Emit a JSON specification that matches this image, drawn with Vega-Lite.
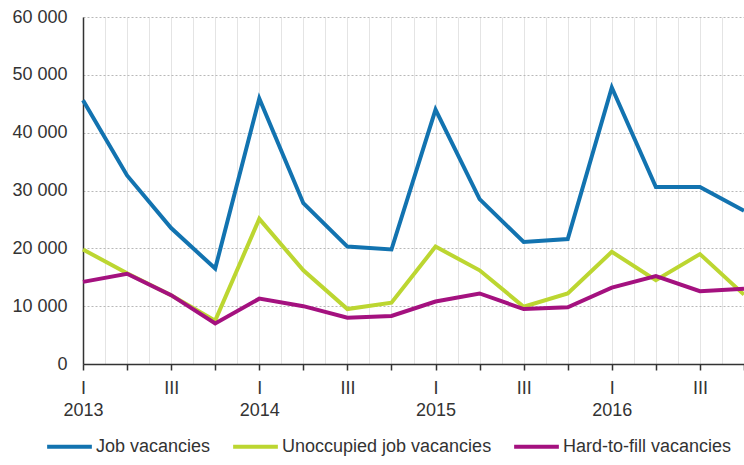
{
  "$schema": "https://vega.github.io/schema/vega-lite/v6.json",
  "autosize": {"type": "none"},
  "width": 661,
  "height": 347,
  "padding": {"left": 83, "top": 17, "right": 0, "bottom": 101},
  "background": "white",
  "config": {
    "font": "Liberation Sans",
    "view": {"stroke": null}
  },
  "data": {
    "values": [
      {"q": 0, "series": "Job vacancies", "value": 45600},
      {"q": 1, "series": "Job vacancies", "value": 32600},
      {"q": 2, "series": "Job vacancies", "value": 23500},
      {"q": 3, "series": "Job vacancies", "value": 16500},
      {"q": 4, "series": "Job vacancies", "value": 45900},
      {"q": 5, "series": "Job vacancies", "value": 27800},
      {"q": 6, "series": "Job vacancies", "value": 20300},
      {"q": 7, "series": "Job vacancies", "value": 19800},
      {"q": 8, "series": "Job vacancies", "value": 44000},
      {"q": 9, "series": "Job vacancies", "value": 28500},
      {"q": 10, "series": "Job vacancies", "value": 21100},
      {"q": 11, "series": "Job vacancies", "value": 21600},
      {"q": 12, "series": "Job vacancies", "value": 47800},
      {"q": 13, "series": "Job vacancies", "value": 30600},
      {"q": 14, "series": "Job vacancies", "value": 30600},
      {"q": 15, "series": "Job vacancies", "value": 26500},
      {"q": 0, "series": "Unoccupied job vacancies", "value": 19800},
      {"q": 1, "series": "Unoccupied job vacancies", "value": 15700},
      {"q": 2, "series": "Unoccupied job vacancies", "value": 11900},
      {"q": 3, "series": "Unoccupied job vacancies", "value": 7500},
      {"q": 4, "series": "Unoccupied job vacancies", "value": 25100},
      {"q": 5, "series": "Unoccupied job vacancies", "value": 16200},
      {"q": 6, "series": "Unoccupied job vacancies", "value": 9500},
      {"q": 7, "series": "Unoccupied job vacancies", "value": 10600},
      {"q": 8, "series": "Unoccupied job vacancies", "value": 20300},
      {"q": 9, "series": "Unoccupied job vacancies", "value": 16200},
      {"q": 10, "series": "Unoccupied job vacancies", "value": 9900},
      {"q": 11, "series": "Unoccupied job vacancies", "value": 12200},
      {"q": 12, "series": "Unoccupied job vacancies", "value": 19400},
      {"q": 13, "series": "Unoccupied job vacancies", "value": 14500},
      {"q": 14, "series": "Unoccupied job vacancies", "value": 19000},
      {"q": 15, "series": "Unoccupied job vacancies", "value": 12000},
      {"q": 0, "series": "Hard-to-fill vacancies", "value": 14200},
      {"q": 1, "series": "Hard-to-fill vacancies", "value": 15600},
      {"q": 2, "series": "Hard-to-fill vacancies", "value": 11900},
      {"q": 3, "series": "Hard-to-fill vacancies", "value": 7000},
      {"q": 4, "series": "Hard-to-fill vacancies", "value": 11300},
      {"q": 5, "series": "Hard-to-fill vacancies", "value": 10000},
      {"q": 6, "series": "Hard-to-fill vacancies", "value": 8000},
      {"q": 7, "series": "Hard-to-fill vacancies", "value": 8300},
      {"q": 8, "series": "Hard-to-fill vacancies", "value": 10800},
      {"q": 9, "series": "Hard-to-fill vacancies", "value": 12200},
      {"q": 10, "series": "Hard-to-fill vacancies", "value": 9500},
      {"q": 11, "series": "Hard-to-fill vacancies", "value": 9800},
      {"q": 12, "series": "Hard-to-fill vacancies", "value": 13200},
      {"q": 13, "series": "Hard-to-fill vacancies", "value": 15200},
      {"q": 14, "series": "Hard-to-fill vacancies", "value": 12600},
      {"q": 15, "series": "Hard-to-fill vacancies", "value": 13000}
    ]
  },
  "mark": {"type": "line", "strokeWidth": 4, "strokeJoin": "miter", "clip": false},
  "encoding": {
    "x": {
      "field": "q",
      "type": "quantitative",
      "scale": {"domain": [0, 15], "nice": false, "zero": false},
      "axis": {
        "title": null,
        "values": [0, 0.5, 1, 1.5, 2, 2.5, 3, 3.5, 4, 4.5, 5, 5.5, 6, 6.5, 7, 7.5, 8, 8.5, 9, 9.5, 10, 10.5, 11, 11.5, 12, 12.5, 13, 13.5, 14, 14.5, 15],
        "grid": true,
        "gridColor": "#e4e4e4",
        "gridWidth": 1,
        "domainColor": "#333333",
        "domainWidth": 1.5,
        "tickColor": "#333333",
        "tickSize": 6,
        "tickWidth": 1.5,
        "tickOpacity": {"condition": {"test": "datum.value % 1 === 0", "value": 1}, "value": 0},
        "labelExpr": "datum.value % 4 === 0 ? ['I', toString(2013 + datum.value / 4)] : (datum.value % 4 === 2 ? 'III' : '')",
        "labelOverlap": false,
        "labelFlush": false,
        "labelBound": false,
        "labelFontSize": 18,
        "labelColor": "#333333",
        "labelLineHeight": 22,
        "labelPadding": 9
      }
    },
    "y": {
      "field": "value",
      "type": "quantitative",
      "scale": {"domain": [0, 60000], "nice": false},
      "axis": {
        "title": null,
        "values": [0, 10000, 20000, 30000, 40000, 50000, 60000],
        "labelExpr": "replace(format(datum.value, ','), ',', ' ')",
        "grid": true,
        "gridColor": "#b8b8b8",
        "gridDash": [2, 2],
        "gridWidth": 1,
        "domainColor": "#333333",
        "domainWidth": 1.5,
        "ticks": false,
        "labelFontSize": 18,
        "labelColor": "#333333",
        "labelPadding": 16
      }
    },
    "color": {
      "field": "series",
      "type": "nominal",
      "scale": {
        "domain": ["Job vacancies", "Unoccupied job vacancies", "Hard-to-fill vacancies"],
        "range": ["#1273b0", "#bcd631", "#a4117f"]
      },
      "legend": {
        "title": null,
        "orient": "none",
        "direction": "horizontal",
        "legendX": -38,
        "legendY": 405,
        "symbolType": "stroke",
        "symbolSize": 2000,
        "symbolStrokeWidth": 4,
        "labelFontSize": 18,
        "labelColor": "#333333",
        "labelOffset": 2,
        "labelLimit": 400,
        "columnPadding": 14
      }
    }
  }
}
